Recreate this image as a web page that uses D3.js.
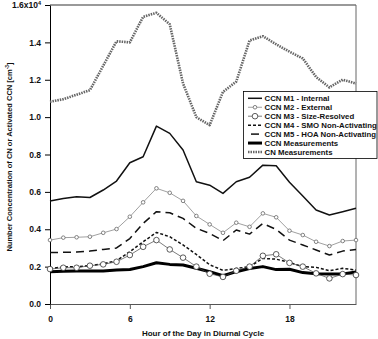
<!DOCTYPE html>
<html>
<head>
<meta charset="utf-8">
<script src="https://cdn.jsdelivr.net/npm/d3@7"></script>
<style>
  body { margin: 0; background: #fff; }
  text { font-family: "Liberation Sans", Arial, sans-serif; font-weight: bold; fill: #111; }
</style>
</head>
<body>
<svg id="chart" width="378" height="339"></svg>
<script>
// hour of day, values in units of 10^4 cm^-3
const hours = [0,1,2,3,4,5,6,7,8,9,10,11,12,13,14,15,16,17,18,19,20,21,22,23];
const cnMeas = [1.082,1.096,1.12,1.144,1.275,1.406,1.40,1.537,1.558,1.497,1.18,1.0,0.957,1.135,1.19,1.41,1.433,1.39,1.35,1.314,1.215,1.159,1.20,1.18];
const m1 = [0.551,0.565,0.574,0.570,0.61,0.658,0.756,0.788,0.952,0.913,0.824,0.654,0.636,0.592,0.654,0.678,0.743,0.74,0.652,0.578,0.503,0.476,0.494,0.512];
const m2 = [0.342,0.355,0.357,0.36,0.381,0.401,0.467,0.544,0.619,0.595,0.552,0.471,0.426,0.381,0.435,0.413,0.485,0.464,0.392,0.369,0.333,0.31,0.337,0.342];
const m3 = [0.187,0.194,0.194,0.205,0.212,0.226,0.262,0.306,0.342,0.292,0.248,0.2,0.162,0.145,0.178,0.2,0.258,0.266,0.22,0.2,0.164,0.137,0.16,0.155];
const m4 = [0.19,0.198,0.2,0.205,0.215,0.232,0.28,0.333,0.383,0.36,0.316,0.265,0.21,0.18,0.19,0.2,0.244,0.24,0.222,0.2,0.196,0.178,0.191,0.182];
const m5 = [0.275,0.277,0.278,0.283,0.292,0.30,0.35,0.431,0.494,0.488,0.458,0.405,0.378,0.339,0.396,0.374,0.431,0.399,0.342,0.316,0.289,0.262,0.283,0.292];
const ccnMeas = [0.173,0.175,0.176,0.176,0.177,0.182,0.185,0.2,0.221,0.212,0.209,0.191,0.173,0.151,0.173,0.19,0.2,0.184,0.186,0.168,0.162,0.16,0.16,0.172];

const xTicks = [0, 6, 12, 18];
const yTicks = [0, 0.2, 0.4, 0.6, 0.8, 1.0, 1.2, 1.4, 1.6];

const series = [
  { name: 'CCN M1 - Internal', values: m1, stroke: '#111', width: 1.5, dash: null },
  { name: 'CCN M2 - External', values: m2, stroke: '#888', width: 0.8, dash: null, marker: 1.8, mstroke: '#666' },
  { name: 'CCN M3 - Size-Resolved', values: m3, stroke: '#444', width: 0.7, dash: null, marker: 2.8, mstroke: '#333' },
  { name: 'CCN M4 - SMO Non-Activating', values: m4, stroke: '#111', width: 1.5, dash: '3,2' },
  { name: 'CCN M5 - HOA Non-Activating', values: m5, stroke: '#111', width: 1.5, dash: '8,5' },
  { name: 'CCN Measurements', values: ccnMeas, stroke: '#000', width: 3, dash: null },
  { name: 'CN Measurements', values: cnMeas, stroke: '#666', width: 2.6, dash: '1.5,1' }
];

const svg = d3.select('#chart');
const x = d3.scaleLinear().domain([0, 23]).range([50, 356]);
const y = d3.scaleLinear().domain([0, 1.6]).range([304, 5]);

// frame
svg.append('line').attr('x1', 50).attr('x2', 356).attr('y1', 5).attr('y2', 5)
  .attr('stroke', '#999').attr('stroke-width', 2);
svg.append('line').attr('x1', 356).attr('x2', 356).attr('y1', 5).attr('y2', 304)
  .attr('stroke', '#666');

const xAxis = svg.append('g').attr('transform', 'translate(0,304)')
  .call(d3.axisBottom(x).tickValues(xTicks).tickSize(5).tickPadding(7).tickSizeOuter(0));
xAxis.select('.domain').attr('stroke', '#555');
xAxis.selectAll('.tick line').attr('stroke', '#555');
xAxis.selectAll('text').style('font-size', '8.5px');

const yAxis = svg.append('g').attr('transform', 'translate(50,0)')
  .call(d3.axisLeft(y).tickValues(yTicks).tickSize(5).tickPadding(4).tickSizeOuter(0)
    .tickFormat(d3.format('.1f')));
yAxis.select('.domain').attr('stroke', '#000');
yAxis.selectAll('text').style('font-size', '8.5px');
yAxis.selectAll('.tick').filter(d => d === 1.6).select('text')
  .text('1.6x10')
  .append('tspan').attr('dy', -3).style('font-size', '5.5px').text('4');

// lines
const line = d3.line().x((d, i) => x(hours[i])).y(d => y(d));
const plot = svg.append('g');
series.slice().reverse().forEach(s => {
  plot.append('path').datum(s.values)
    .attr('d', line)
    .attr('fill', 'none')
    .attr('stroke', s.stroke)
    .attr('stroke-width', s.width)
    .attr('stroke-dasharray', s.dash)
    .attr('stroke-linejoin', 'round');
  if (s.marker) {
    plot.selectAll(null).data(s.values).enter().append('circle')
      .attr('cx', (d, i) => x(hours[i]))
      .attr('cy', d => y(d))
      .attr('r', s.marker)
      .attr('fill', '#fff')
      .attr('stroke', s.mstroke)
      .attr('stroke-width', 0.8);
  }
});

// axis titles
svg.append('text')
  .attr('transform', 'translate(12,157) rotate(-90)')
  .attr('text-anchor', 'middle')
  .style('font-size', '7.5px')
  .text('Number Concentration of CN or Activated CCN [cm')
  .call(t => {
    t.append('tspan').attr('dy', -3).style('font-size', '5px').text('-3');
    t.append('tspan').attr('dy', 3).text(']');
  });

svg.append('text')
  .attr('x', 203).attr('y', 336)
  .attr('text-anchor', 'middle')
  .style('font-size', '8px')
  .text('Hour of the Day in Diurnal Cycle');

// legend
const legend = svg.append('g');
legend.append('rect')
  .attr('x', 243.5).attr('y', 91.5).attr('width', 133.5).attr('height', 67)
  .attr('fill', '#fff').attr('stroke', '#000').attr('stroke-width', 0.8);

const rowY = d3.scalePoint().domain(series.map(s => s.name)).range([98.3, 152]);
series.forEach(s => {
  const yy = rowY(s.name);
  const g = legend.append('g');
  g.append('line')
    .attr('x1', s.name.includes('M5') ? 251 : 248).attr('x2', s.name.includes('M5') ? 259 : 262)
    .attr('y1', yy).attr('y2', yy)
    .attr('stroke', s.stroke)
    .attr('stroke-width', s.width)
    .attr('stroke-dasharray', s.name.includes('M5') ? null : s.dash);
  if (s.marker) {
    g.append('circle').attr('cx', 255).attr('cy', yy).attr('r', s.marker)
      .attr('fill', '#fff').attr('stroke', s.mstroke).attr('stroke-width', 0.8);
  }
  g.append('text').attr('x', 264.5).attr('y', yy).attr('dy', '0.35em')
    .style('font-size', '7.8px').text(s.name);
});
</script>
</body>
</html>
